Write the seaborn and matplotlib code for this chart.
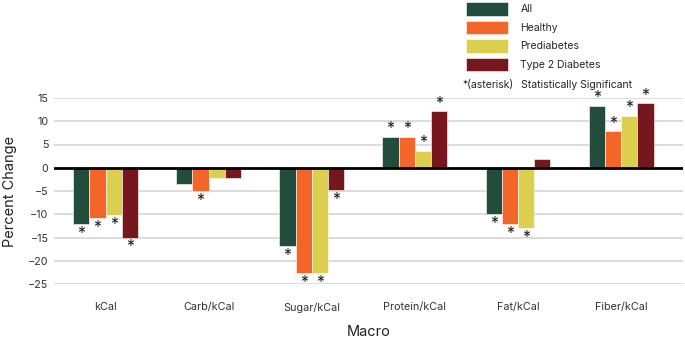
import numpy as np
import pandas as pd
import matplotlib
matplotlib.use("Agg")
import matplotlib.pyplot as plt
import seaborn as sns
from matplotlib.patches import Patch

# values
macros = ["kCal", "Carb/kCal", "Sugar/kCal", "Protein/kCal", "Fat/kCal", "Fiber/kCal"]
groups = ["All", "Healthy", "Prediabetes", "Type 2 Diabetes"]
all_vals = [-12.2, -3.6, -16.8, 6.7, -10.0, 13.3]
healthy_vals = [-10.9, -5.0, -22.6, 6.7, -12.1, 7.8]
prediabetes_vals = [-10.2, -2.3, -22.6, 3.7, -12.9, 11.2]
t2d_vals = [-15.0, -2.3, -4.8, 12.2, 1.8, 13.9]

# significance flags (asterisk) per group
all_sig = [1, 0, 1, 1, 1, 1]
healthy_sig = [1, 1, 1, 1, 1, 1]
prediabetes_sig = [1, 0, 1, 1, 1, 1]
t2d_sig = [1, 0, 1, 1, 0, 1]

colors = ["#224d3d", "#f4652a", "#dccf4e", "#76171e"]
yticks = [15, 10, 5, 0, -5, -10, -15, -20, -25]

df = pd.DataFrame({
    "Macro": macros * 4,
    "Group": np.repeat(groups, len(macros)),
    "Value": all_vals + healthy_vals + prediabetes_vals + t2d_vals,
    "Sig": all_sig + healthy_sig + prediabetes_sig + t2d_sig,
})

sns.set_style("white")
plt.rcParams["font.family"] = ["Inter", "DejaVu Sans"]

fig = plt.figure(figsize=(6.85, 3.42), dpi=100)
ax = fig.add_axes([54 / 685, 58 / 342, 629 / 685, 186 / 342])

sns.barplot(data=df, x="Macro", y="Value", hue="Group", order=macros,
            hue_order=groups, palette=colors, width=0.63, saturation=1,
            edgecolor="white", linewidth=0.4, legend=False, ax=ax)

# asterisks for significant changes
for container, g in zip(ax.containers, groups):
    sub = df[df.Group == g].set_index("Macro").loc[macros]
    for bar, (val, sig) in zip(container.patches, zip(sub.Value, sub.Sig)):
        if not sig:
            continue
        x = bar.get_x() + bar.get_width() / 2
        if val < 0:
            ax.text(x, val - 0.4, "*", ha="center", va="top", fontsize=11.5, color="#222222")
        else:
            ax.text(x, val + 0.1, "*", ha="center", va="bottom", fontsize=11.5, color="#222222")

ax.set_ylim(-25, 15)
ax.set_xlim(-0.5, 5.6)
ax.set_yticks(yticks)
ax.yaxis.grid(True, color="#d9d9d9", linewidth=1.3)
ax.set_axisbelow(True)
ax.axhline(0, color="black", linewidth=2, zorder=3)
for s in ax.spines.values():
    s.set_visible(False)
ax.tick_params(axis="x", length=0, pad=13, labelsize=7.8, labelcolor="#333333")
ax.tick_params(axis="y", length=0, pad=4, labelsize=7.8, labelcolor="#333333")
ax.set_xlabel("Macro", fontsize=10.5, labelpad=9, color="#222222")
ax.set_ylabel("Percent Change", fontsize=10.5, labelpad=8, color="#222222")

handles = [Patch(facecolor=c, edgecolor="white", linewidth=0.4) for c in colors]
fig.legend(handles, groups, loc="upper left", bbox_to_anchor=(462 / 685, 1.006),
           frameon=False, fontsize=7.5, handlelength=4.0, handleheight=1.6,
           labelspacing=0.5, handletextpad=1.2, borderaxespad=0)
fig.text(462 / 685, 1 - 85 / 342, "*(asterisk)", fontsize=7.5, va="center", ha="left", color="#222222")
fig.text(521 / 685, 1 - 85 / 342, "Statistically Significant", fontsize=7.5, va="center", ha="left", color="#222222")

fig.savefig("out.png", dpi=100)
